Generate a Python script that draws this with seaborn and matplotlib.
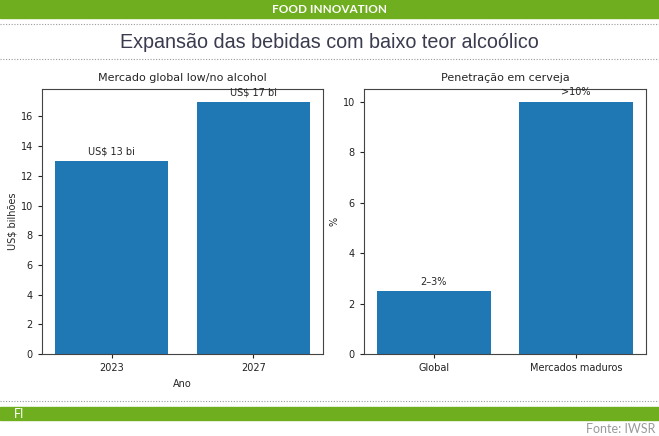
import matplotlib
matplotlib.use("Agg")
import matplotlib.pyplot as plt
import seaborn as sns
import pandas as pd

# -----------------------------
# Data
# -----------------------------
anos = ["2023", "2027"]
mercado_bi = [13, 17]
mercado_labels = ["US$ 13 bi", "US$ 17 bi"]

segmentos = ["Global", "Mercados maduros"]
penetracao = [2.5, 10]
penetracao_labels = ["2–3%", ">10%"]

GREEN = "#6fae1e"
BLUE = "#1f77b4"

sns.set_style("white")
plt.rcParams["font.family"] = ["DejaVu Sans"]

fig = plt.figure(figsize=(6.59, 4.36), dpi=100)

# -----------------------------
# Header / footer decoration
# -----------------------------
fig.patches.append(plt.Rectangle((0, 1 - 18 / 436), 1, 18 / 436, transform=fig.transFigure,
                                 color=GREEN, zorder=0))
fig.text(0.5, 1 - 9.5 / 436, "FOOD INNOVATION", ha="center", va="center", color="white",
         fontsize=8.5, fontweight="bold", family="Lato")
for yy in [24, 59, 401]:
    fig.add_artist(plt.Line2D([0, 1], [1 - yy / 436] * 2, transform=fig.transFigure,
                              color="#9a9a9a", lw=0.8, ls=(0, (1, 1.5))))
fig.text(0.5, 1 - 42 / 436, "Expansão das bebidas com baixo teor alcoólico", ha="center",
         va="center", color="#3b3b4f", fontsize=14.2, family="Liberation Sans")
fig.patches.append(plt.Rectangle((0, 1 - 420 / 436), 1, 13 / 436, transform=fig.transFigure,
                                 color=GREEN, zorder=0))
fig.text(14 / 659, 1 - 413.5 / 436, "FI", ha="left", va="center", color="white",
         fontsize=9, family="Lato")
fig.text(655 / 659, 1 - 429 / 436, "Fonte: IWSR", ha="right", va="center", color="#9a9a9a",
         fontsize=9, family="Lato")

# -----------------------------
# Charts
# -----------------------------
ax1 = fig.add_axes([42 / 659, 1 - 354 / 436, 281 / 659, 265 / 436])
ax2 = fig.add_axes([364 / 659, 1 - 354 / 436, 282 / 659, 265 / 436])

df1 = pd.DataFrame({"Ano": anos, "valor": mercado_bi})
df2 = pd.DataFrame({"seg": segmentos, "valor": penetracao})

sns.barplot(data=df1, x="Ano", y="valor", color=BLUE, saturation=1, linewidth=0, ax=ax1)
sns.barplot(data=df2, x="seg", y="valor", color=BLUE, saturation=1, linewidth=0, ax=ax2)

ax1.bar_label(ax1.containers[0], labels=mercado_labels, padding=3, fontsize=7)
ax2.bar_label(ax2.containers[0], labels=penetracao_labels, padding=3, fontsize=7)

ax1.set_title("Mercado global low/no alcohol", fontsize=8)
ax2.set_title("Penetração em cerveja", fontsize=8)
ax1.set_xlabel("Ano", fontsize=7)
ax1.set_ylabel("US$ bilhões", fontsize=7, labelpad=2)
ax2.set_xlabel("")
ax2.set_ylabel("%", fontsize=7, labelpad=2)
ax1.set_ylim(0, 17.85)
ax2.set_ylim(0, 10.5)

for ax in (ax1, ax2):
    ax.set_xlim(-0.49, 1.49)
    ax.tick_params(axis="both", labelsize=7, length=3, width=0.8, left=True, bottom=True,
                   colors="#222222")
    for s in ax.spines.values():
        s.set_visible(True)
        s.set_color("#444444")
        s.set_linewidth(0.8)

fig.savefig("out.png", dpi=100)
